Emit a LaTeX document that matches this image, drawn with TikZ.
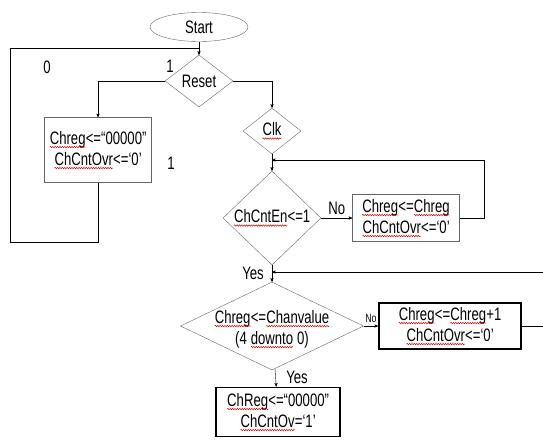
\documentclass[tikz,border=0pt]{standalone}
\usepackage{fontspec}
\setmainfont{Liberation Sans}[FakeStretch=0.73]
\usetikzlibrary{shapes.geometric, positioning, arrows, decorations.pathmorphing}
\definecolor{linegray}{HTML}{4a4a4a}
\definecolor{shapegray}{HTML}{666666}
% red wavy underline of the spell checker
\newcommand\spl[1]{\tikz[baseline=(w.base)]{\node[rectangle, draw=none, minimum width=0pt, minimum height=0pt,
    inner sep=0pt, outer sep=0pt] (w) {#1};
  \draw[-, red!85!black, line width=0.5pt, decorate, decoration={zigzag, amplitude=0.7pt, segment length=2.4pt}]
    ([yshift=-3pt]w.base west) -- ([yshift=-3pt]w.base east);}}
\tikzset{
->, % connectors are directed
>=stealth', % arrow heads
line width=1pt,
draw=linegray,
every node/.style={font=\fontsize{18}{21}\selectfont, inner sep=0pt},
terminal/.style={ellipse, draw=shapegray, -}, % start oval
decision/.style={diamond, draw=shapegray, -}, % test boxes
proc/.style={rectangle, draw=shapegray, align=center, -}, % thin action boxes
procthick/.style={proc, draw=black, line width=1.8pt}, % thick action boxes
smalltxt/.style={font=\fontsize{12}{14}\selectfont},
}
\begin{document}
\begin{tikzpicture}[x=1pt,y=-1pt]
\useasboundingbox (0,0) rectangle (543,440);
\node[terminal, minimum width=98pt, minimum height=29pt] (start) at (199,27) {Start};
\node[decision, below of=start, node distance=54pt, minimum width=68pt, minimum height=52pt,
      label={center:Reset}] (reset) {};
\node[proc, minimum width=107pt, minimum height=65pt] (box1) at (98,150)
     {\spl{Chreg}<=“00000”\\\spl{ChCntOvr}<=‘0’};
\node[decision, minimum width=58pt, minimum height=46pt, label={center:\spl{Clk}}] (clk) at (272,131) {};
\node[decision, below of=clk, node distance=87pt, minimum width=98pt, minimum height=94pt,
      label={center:\spl{ChCntEn}<=1}] (chcnten) {};
\node[proc, right of=chcnten, node distance=134pt, minimum width=107pt, minimum height=47pt] (box2)
     {\spl{Chreg}<=\spl{Chreg}\\\spl{ChCntOvr}<=‘0’};
\node[decision, below of=chcnten, node distance=108pt, minimum width=183pt, minimum height=88pt,
      label={[align=center, yshift=-3pt]center:\spl{Chreg}<=\spl{Chanvalue}\\(4 \spl{downto} 0)}] (chan) {};
\node[procthick, right of=chan, node distance=178pt, minimum width=142pt, minimum height=46pt] (box3)
     {\spl{Chreg}<=\spl{Chreg}+1\\\spl{ChCntOvr}<=‘0’};
\node[procthick, minimum width=124pt, minimum height=49pt] (box4) at (278,412)
     {\spl{ChReg}<=“00000”\\\spl{ChCntOv}=‘1’};

% labels
\node (zero) at (47,67) {0};
\node (one) at (170,66) {1};
\node (onebox) at (171,163) {1};
\node (yes1) at (253,273) {Yes};
\node (yes2) at (297,377) {Yes};

% helper points
\coordinate (rtop) at (199,48);
\coordinate (lcorner) at (10,242);
\coordinate (ctop) at (272,160);
\coordinate (yjoin) at (272,272);

\draw (start) -- (reset);
\draw[-] (box1.south) |- (lcorner) |- (rtop);
\draw (reset.west) -| (box1.north);
\draw (reset.east) -| (clk.north);
\draw (clk) -- (chcnten);
\draw (box2.east) -- ++(24,0) |- (ctop);
\draw (chcnten.east) -- node[above=3pt] (no1) {No} (box2.west);
\draw (chcnten) -- (chan);
\draw (box3.east) -- ++(30,0) |- (yjoin);
\draw (chan.east) -- node[above=3pt, smalltxt] (no2) {No} (box3.west);
\draw (chan) -- (box4);
\end{tikzpicture}
\end{document}
